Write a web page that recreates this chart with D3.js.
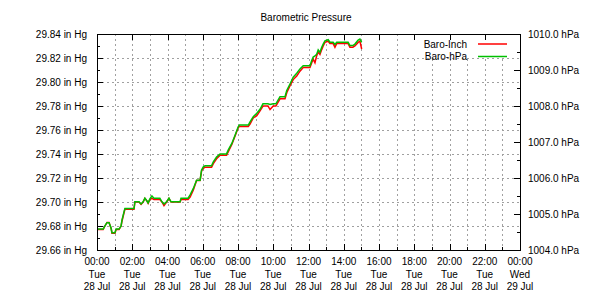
<!DOCTYPE html>
<html lang="en">
<head>
  <meta charset="UTF-8">
  <title>Barometric Pressure</title>
  <style>
    body { margin: 0; background: #fff; }
    svg { display: block; font-family: "Liberation Sans", Arial, sans-serif; font-size: 10px; }
    .grid line { stroke: #a0a0a0; stroke-dasharray: 2,3; }
  </style>
</head>
<body>
  <div id="chart"></div>
  <script src="https://d3js.org/d3.v7.min.js"></script>
  <script>
    // readings, Tue 28 Jul
    var times = ["00:00","00:21","00:27","00:34","00:41","00:48","00:51","01:01","01:05","01:15",
      "01:22","01:25","01:32","01:35","02:06","02:09","02:23","02:30","02:37","02:43",
      "02:50","02:54","03:00","03:07","03:14","03:34","03:41","03:48","03:57","04:05",
      "04:12","04:43","04:46","05:10","05:17","05:28","05:39","05:51","05:56","06:02",
      "06:08","06:30","06:36","06:47","06:59","07:21","07:27","07:39","07:50","08:01",
      "08:05","08:35","08:41","08:52","09:04","09:15","09:25","09:42","09:49","10:00",
      "10:09","10:23","10:40","10:46","10:57","11:08","11:20","11:31","11:42","12:05",
      "12:11","12:16","12:22","12:28","12:33","12:39","12:45","12:50","12:56","13:07",
      "13:13","13:24","13:30","13:36","14:15","14:21","14:31","14:38","14:49","14:55",
      "15:01"];
    var baroInch = [29.677,29.677,29.680,29.683,29.683,29.678,29.674,29.674,29.677,29.677,
      29.680,29.684,29.691,29.694,29.694,29.700,29.700,29.698,29.700,29.703,
      29.701,29.699,29.702,29.703,29.702,29.702,29.700,29.697,29.700,29.703,
      29.700,29.700,29.702,29.702,29.704,29.710,29.718,29.718,29.726,29.728,
      29.729,29.729,29.732,29.736,29.739,29.739,29.742,29.748,29.755,29.762,
      29.763,29.763,29.765,29.770,29.772,29.776,29.780,29.780,29.777,29.780,
      29.780,29.786,29.786,29.791,29.797,29.802,29.805,29.809,29.812,29.812,
      29.816,29.819,29.816,29.822,29.825,29.823,29.827,29.830,29.833,29.834,
      29.832,29.832,29.829,29.832,29.832,29.829,29.829,29.830,29.833,29.834,
      29.8275];
    var baroHpa = [1004.58,1004.58,1004.67,1004.76,1004.76,1004.61,1004.48,1004.48,1004.58,1004.58,
      1004.67,1004.83,1005.06,1005.15,1005.15,1005.34,1005.34,1005.28,1005.34,1005.44,
      1005.36,1005.31,1005.42,1005.50,1005.44,1005.44,1005.34,1005.28,1005.34,1005.44,
      1005.34,1005.34,1005.44,1005.44,1005.53,1005.71,1005.94,1005.94,1006.22,1006.31,
      1006.34,1006.34,1006.45,1006.58,1006.67,1006.67,1006.78,1006.96,1007.19,1007.43,
      1007.47,1007.47,1007.56,1007.70,1007.80,1007.91,1008.06,1008.06,1008.04,1008.06,
      1008.06,1008.26,1008.26,1008.43,1008.61,1008.80,1008.91,1009.03,1009.12,1009.12,
      1009.26,1009.36,1009.39,1009.44,1009.56,1009.49,1009.63,1009.72,1009.81,1009.84,
      1009.77,1009.77,1009.71,1009.77,1009.77,1009.68,1009.68,1009.72,1009.83,1009.86,
      1009.77];
    var inchTicks = [29.66,29.68,29.70,29.72,29.74,29.76,29.78,29.80,29.82,29.84];
    var hpaTicks = [1004,1005,1006,1007,1008,1009,1010];
    var seriesNames = ["Baro-Inch", "Baro-hPa"];
    var seriesColors = ["#ff0000", "#00c000"];

    var W = 610, H = 300;
    var pL = 97, pR = 520, pT = 34, pB = 250;

    var parse = d3.timeParse("%Y-%m-%d %H:%M");
    var day0 = new Date(2015, 6, 28), day1 = new Date(2015, 6, 29);
    var dates = times.map(function(t) { return parse("2015-07-28 " + t); });

    var x = d3.scaleTime().domain([day0, day1]).range([pL, pR]);
    var yIn = d3.scaleLinear().domain([29.66, 29.84]).range([pB, pT]);
    var yPa = d3.scaleLinear().domain([1004, 1010]).range([pB, pT]);

    var svg = d3.select("#chart").append("svg")
      .attr("width", W).attr("height", H);

    svg.append("text")
      .attr("x", 306).attr("y", 21)
      .attr("text-anchor", "middle")
      .text("Barometric Pressure");

    var hours = d3.timeHour.range(day0, day1, 1).slice(1);
    var twoHours = d3.timeHour.range(day0, d3.timeHour.offset(day1, 1), 2);
    var minorIn = d3.range(29.67, 29.84, 0.02);
    var minorPa = d3.range(1004.5, 1010, 1);

    function px(v) { return Math.round(v) + 0.5; }

    // grid
    var grid = svg.append("g").attr("class", "grid");
    grid.selectAll(".gv").data(hours).enter().append("line")
      .attr("x1", function(d) { return px(x(d)); })
      .attr("x2", function(d) { return px(x(d)); })
      .attr("y1", pT).attr("y2", pB);
    grid.selectAll(".gh").data(inchTicks.slice(1, -1)).enter().append("line")
      .attr("x1", pL).attr("x2", pR)
      .attr("y1", function(d) { return px(yIn(d)); })
      .attr("y2", function(d) { return px(yIn(d)); });

    // opaque key box hides the grid behind the legend
    svg.append("rect")
      .attr("x", 408).attr("y", pT + 1)
      .attr("width", pR - 408).attr("height", 23)
      .attr("fill", "#fff");

    // ticks
    var tk = svg.append("g").attr("stroke", "#000").attr("shape-rendering", "crispEdges");
    twoHours.forEach(function(d) {
      tk.append("line").attr("x1", px(x(d))).attr("x2", px(x(d))).attr("y1", pB).attr("y2", pB - 6);
      tk.append("line").attr("x1", px(x(d))).attr("x2", px(x(d))).attr("y1", pT).attr("y2", pT + 6);
    });
    hours.forEach(function(d) {
      tk.append("line").attr("x1", px(x(d))).attr("x2", px(x(d))).attr("y1", pB).attr("y2", pB - 3);
    });
    inchTicks.forEach(function(v) {
      tk.append("line").attr("x1", pL).attr("x2", pL + 6).attr("y1", px(yIn(v))).attr("y2", px(yIn(v)));
    });
    minorIn.forEach(function(v) {
      tk.append("line").attr("x1", pL).attr("x2", pL + 3).attr("y1", px(yIn(v))).attr("y2", px(yIn(v)));
    });
    hpaTicks.forEach(function(v) {
      tk.append("line").attr("x1", pR).attr("x2", pR - 6).attr("y1", px(yPa(v))).attr("y2", px(yPa(v)));
    });
    minorPa.forEach(function(v) {
      tk.append("line").attr("x1", pR).attr("x2", pR - 3).attr("y1", px(yPa(v))).attr("y2", px(yPa(v)));
    });

    // tick labels
    svg.append("g").selectAll("text").data(inchTicks).enter().append("text")
      .attr("x", pL - 10).attr("y", function(d) { return yIn(d) + 3.5; })
      .attr("text-anchor", "end")
      .text(function(d) { return d3.format(".2f")(d) + " in Hg"; });
    svg.append("g").selectAll("text").data(hpaTicks).enter().append("text")
      .attr("x", pR + 8).attr("y", function(d) { return yPa(d) + 3.5; })
      .text(function(d) { return d3.format(".1f")(d) + " hPa"; });

    var fmts = [d3.timeFormat("%H:%M"), d3.timeFormat("%a"), d3.timeFormat("%d %b")];
    var xl = svg.append("g").selectAll("text").data(twoHours).enter().append("text")
      .attr("text-anchor", "middle")
      .attr("x", function(d) { return x(d); })
      .attr("y", 265);
    [0, 1, 2].forEach(function(i) {
      xl.append("tspan")
        .attr("x", function(d) { return x(d); })
        .attr("y", 265 + i * 12.5)
        .text(function(d) { return fmts[i](d); });
    });

    // series
    var lineIn = d3.line().x(function(d, i) { return x(dates[i]); }).y(function(d) { return yIn(d); });
    var linePa = d3.line().x(function(d, i) { return x(dates[i]); }).y(function(d) { return yPa(d); });
    svg.append("path").datum(baroInch)
      .attr("fill", "none").attr("stroke", seriesColors[0]).attr("stroke-width", 1.5)
      .attr("d", lineIn);
    svg.append("path").datum(baroHpa)
      .attr("fill", "none").attr("stroke", seriesColors[1]).attr("stroke-width", 1.5)
      .attr("d", linePa);

    // border
    svg.append("rect")
      .attr("x", pL + 0.5).attr("y", pT + 0.5)
      .attr("width", pR - pL).attr("height", pB - pT)
      .attr("fill", "none").attr("stroke", "#000");

    // legend
    var lg = svg.append("g");
    seriesNames.forEach(function(name, i) {
      var ly = 44 + i * 12.5;
      lg.append("text").attr("x", 467).attr("y", ly + 3.5)
        .attr("text-anchor", "end").text(name);
      lg.append("line").attr("x1", 478).attr("x2", 507)
        .attr("y1", ly).attr("y2", ly)
        .attr("stroke", seriesColors[i]).attr("stroke-width", 1.5);
    });
  </script>
</body>
</html>
